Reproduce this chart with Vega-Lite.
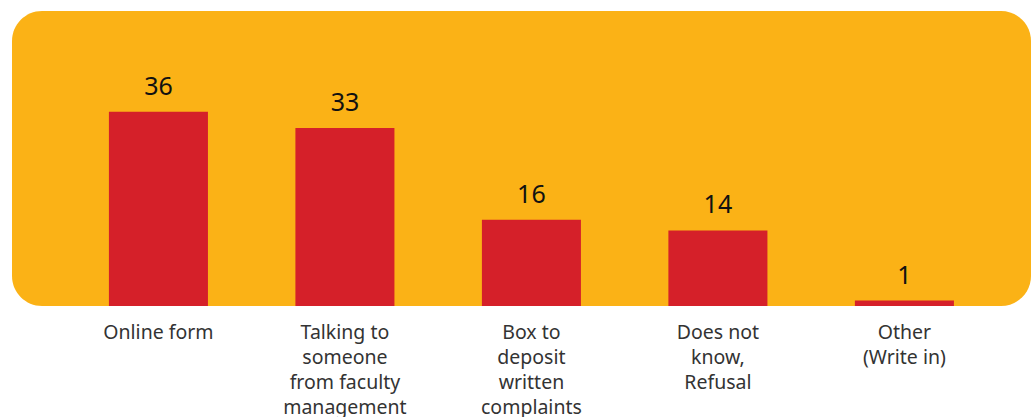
{
  "$schema": "https://vega.github.io/schema/vega-lite/v6.json",
  "width": 1019,
  "height": 295,
  "padding": {"left": 12, "top": 11, "right": 0, "bottom": 0},
  "background": "white",
  "config": {
    "view": {"fill": "#FBB216", "stroke": null, "cornerRadius": 30},
    "font": "Noto Sans"
  },
  "data": {
    "values": [
      {"category": "Online form", "value": 36},
      {"category": "Talking to|someone|from faculty|management", "value": 33},
      {"category": "Box to|deposit|written|complaints", "value": 16},
      {"category": "Does not|know,|Refusal", "value": 14},
      {"category": "Other|(Write in)", "value": 1}
    ]
  },
  "encoding": {
    "x": {
      "field": "category",
      "type": "nominal",
      "sort": null,
      "scale": {"paddingInner": 0.469, "paddingOuter": 0.4665, "align": 0.557},
      "axis": {
        "title": null,
        "domain": false,
        "ticks": false,
        "labelAngle": 0,
        "labelFontSize": 19.5,
        "labelColor": "#333333",
        "labelPadding": 17,
        "labelLineHeight": 25,
        "labelExpr": "split(datum.label, '|')"
      }
    },
    "y": {
      "field": "value",
      "type": "quantitative",
      "scale": {"domain": [0, 54.7], "nice": false},
      "axis": null
    }
  },
  "layer": [
    {"mark": {"type": "bar", "color": "#D52029"}},
    {
      "mark": {"type": "text", "baseline": "alphabetic", "dy": -17, "fontSize": 25, "color": "#111111"},
      "encoding": {"text": {"field": "value", "type": "quantitative"}}
    }
  ]
}
